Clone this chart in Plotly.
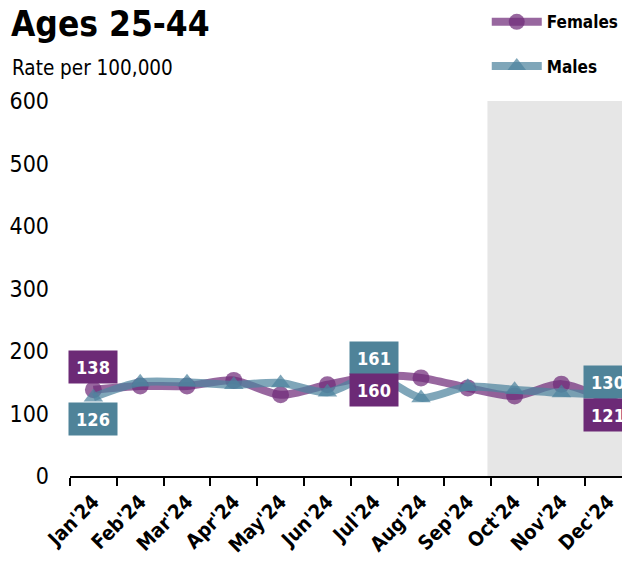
import plotly.graph_objects as go

months = ["Jan'24", "Feb'24", "Mar'24", "Apr'24", "May'24", "Jun'24",
          "Jul'24", "Aug'24", "Sep'24", "Oct'24", "Nov'24", "Dec'24"]
females = [138, 144, 144, 153, 130, 146, 160, 157, 141, 128, 147, 121]
males = [126, 150, 150, 146, 149, 134, 161, 125, 143, 138, 133, 130]
y_ticks = [0, 100, 200, 300, 400, 500, 600]

FONT = "'DejaVu Sans Condensed', 'Liberation Sans Narrow', Roboto, sans-serif"
F_LINE = "rgba(112,44,122,0.72)"
M_LINE = "rgba(77,132,158,0.72)"
F_BOX = "#6c2a76"
M_BOX = "#4f8399"

fig = go.Figure()
fig.add_trace(go.Scatter(
    x=months, y=females, name="<b>Females</b>", mode="lines+markers",
    line=dict(color=F_LINE, width=8, shape="spline", smoothing=0.8),
    marker=dict(symbol="circle", size=17, color=F_LINE),
    legendgroup="f",
))
fig.add_trace(go.Scatter(
    x=months, y=males, name="<b>Males</b>", mode="lines+markers",
    line=dict(color=M_LINE, width=8, shape="spline", smoothing=0.8),
    marker=dict(symbol="triangle-up", size=17, color=M_LINE),
    legendgroup="m",
))

# shaded region
fig.add_shape(type="rect", xref="x", yref="y", x0=8.42, x1=11.6, y0=0, y1=600,
              fillcolor="#e6e6e6", line=dict(width=0), layer="below")

# data labels
label_specs = [
    (0, females, F_BOX, 23), (0, males, M_BOX, -22),
    (6, males, M_BOX, 17), (6, females, F_BOX, -14),
    (11, males, M_BOX, 13), (11, females, F_BOX, -15),
]
for i, series, col, shift in label_specs:
    fig.add_annotation(
        x=months[i], y=series[i], text=f"<b>{series[i]}</b>", showarrow=False,
        yshift=shift, bgcolor=col, width=44, height=28, borderpad=2,
        font=dict(family=FONT, size=18, color="white"),
    )

fig.add_annotation(xref="paper", yref="paper", x=-0.11, y=1.205, xanchor="left",
                   yanchor="middle", text="<b>Ages 25-44</b>", showarrow=False,
                   font=dict(family=FONT, size=35, color="black"))
fig.add_annotation(xref="paper", yref="paper", x=-0.108, y=1.087, xanchor="left",
                   yanchor="middle", text="Rate per 100,000", showarrow=False,
                   font=dict(family=FONT, size=20.5, color="black"))

fig.update_layout(
    width=622, height=566,
    margin=dict(l=70, r=0, t=101, b=90, autoexpand=False),
    plot_bgcolor="white", paper_bgcolor="white",
    showlegend=True,
    legend=dict(x=0.755, xanchor="left", y=1.258, yanchor="top",
                font=dict(family=FONT, size=17, color="black"),
                tracegroupgap=19, itemwidth=50, bgcolor="rgba(0,0,0,0)",
                traceorder="grouped"),
    font=dict(family=FONT, color="black"),
)
fig.update_xaxes(
    type="category", range=[-0.5, 11.295], showgrid=False,
    showline=True, linecolor="black", linewidth=2,
    ticks="outside", tickson="boundaries", ticklen=8, tickwidth=2, tickcolor="black",
    tickangle=-45, tickfont=dict(family=FONT, size=20, color="black"),
    tickprefix="<b>", ticksuffix="</b>", ticklabelstandoff=4,
)
fig.update_yaxes(
    range=[0, 600], tickvals=y_ticks, showgrid=False, zeroline=False, showline=False,
    tickfont=dict(family=FONT, size=23, color="black"),
    ticklabelstandoff=20,
)

fig.write_html(
    "out.html",
    config={"displayModeBar": False},
    post_script="document.documentElement.style.overflow='hidden';"
                "document.body.style.margin='0';document.body.style.overflow='hidden';",
)
